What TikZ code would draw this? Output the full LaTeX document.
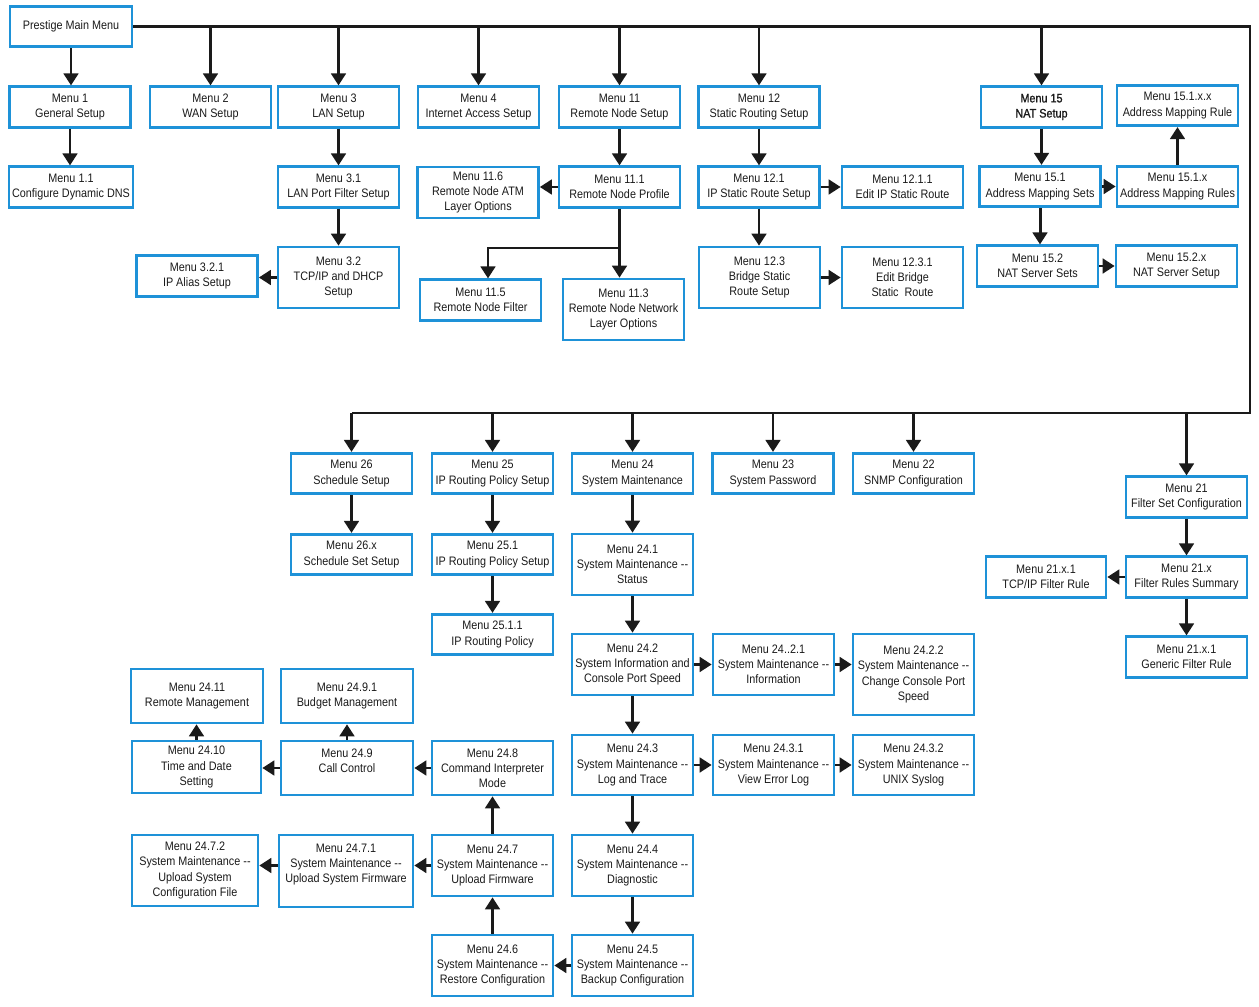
\documentclass[tikz,border=0pt]{standalone}
\usepackage{fontspec}
\setmainfont{Liberation Sans}[FakeStretch=0.88]
\newfontfamily\heavyfont{Liberation Sans}[FakeStretch=0.88,FakeBold=1.2]
\usepackage{tikz}
\usetikzlibrary{arrows.meta}
\definecolor{boxblue}{RGB}{30,146,216}
\definecolor{ink}{RGB}{26,26,26}
\newcommand{\sysm}{System Maintenance -{}-}

\begin{document}
\begin{tikzpicture}[x=0.02cm,y=-0.02cm,
  menu/.style={draw=boxblue,line width=1.5pt,align=center,inner sep=0pt,
    minimum width=2.42cm,minimum height=0.81cm,text=ink,
    font=\fontsize{7pt}{8.6pt}\selectfont},
  tall/.style={minimum height=1.22cm},
  arr/.style={-{Triangle[length=2.4mm,width=2.9mm]},line width=1.7pt,draw=ink},
  bus/.style={line width=1.2pt,draw=ink}]

\useasboundingbox (0,0) rectangle (1259,1007);

% top row
\node[menu,minimum width=2.44cm] (main) at (71,26.5) {Prestige Main Menu};
\node[menu] (m1) at (70,107) {Menu 1\\General Setup};
\node[menu] (m2) at (210.5,107) {Menu 2\\WAN Setup};
\node[menu] (m3) at (338.5,107) {Menu 3\\LAN Setup};
\node[menu] (m4) at (478.5,107) {Menu 4\\Internet Access Setup};
\node[menu] (m11) at (619.5,107) {Menu 11\\Remote Node Setup};
\node[menu] (m12) at (759,107) {Menu 12\\Static Routing Setup};
\node[menu,font=\fontsize{7pt}{8.6pt}\heavyfont] (m15) at (1041.5,107) {Menu 15\\NAT Setup};
\node[menu] (m15_1_x_x) at (1177.5,105.5) {Menu 15.1.x.x\\Address Mapping Rule};

% second row
\node[menu,minimum width=2.48cm] (m1_1) at (71,187) {Menu 1.1\\Configure Dynamic DNS};
\node[menu] (m3_1) at (338.5,187) {Menu 3.1\\LAN Port Filter Setup};
\node[menu,minimum height=1.02cm] (m11_6) at (478,192.5) {Menu 11.6\\Remote Node ATM\\Layer Options};
\node[menu] (m11_1) at (619.5,187) {Menu 11.1\\Remote Node Profile};
\node[menu] (m12_1) at (759,187) {Menu 12.1\\IP Static Route Setup};
\node[menu] (m12_1_1) at (902.5,187) {Menu 12.1.1\\Edit IP Static Route};
\node[menu] (m15_1) at (1040,186.5) {Menu 15.1\\Address Mapping Sets};
\node[menu] (m15_1_x) at (1177.5,186.5) {Menu 15.1.x\\Address Mapping Rules};

% third row
\node[menu,tall] (m3_2) at (338.5,277.5) {Menu 3.2\\TCP/IP and DHCP\\Setup};
\node[menu] (m3_2_1) at (197,276) {Menu 3.2.1\\IP Alias Setup};
\node[menu] (m11_5) at (480.5,300) {Menu 11.5\\Remote Node Filter};
\node[menu,tall] (m11_3) at (623.5,309.5) {Menu 11.3\\Remote Node Network\\Layer Options};
\node[menu,tall] (m12_3) at (759.5,277.5) {Menu 12.3\\Bridge Static\\Route Setup};
\node[menu,tall] (m12_3_1) at (902.5,277.5) {Menu 12.3.1\\Edit Bridge\\Static\ \ Route};
\node[menu] (m15_2) at (1037.5,266) {Menu 15.2\\NAT Server Sets};
\node[menu] (m15_2_x) at (1176.5,266) {Menu 15.2.x\\NAT Server Setup};

% lower part
\node[menu] (m26) at (351.5,473.5) {Menu 26\\Schedule Setup};
\node[menu] (m25) at (492.5,473.5) {Menu 25\\IP Routing Policy Setup};
\node[menu] (m24) at (632.5,473.5) {Menu 24\\System Maintenance};
\node[menu] (m23) at (773,473.5) {Menu 23\\System Password};
\node[menu] (m22) at (913.5,473.5) {Menu 22\\SNMP Configuration};
\node[menu] (m21) at (1186.5,497) {Menu 21\\Filter Set Configuration};

\node[menu] (m26_x) at (351.5,554.5) {Menu 26.x\\Schedule Set Setup};
\node[menu] (m25_1) at (492.5,554.5) {Menu 25.1\\IP Routing Policy Setup};
\node[menu,tall] (m24_1) at (632.5,564.5) {Menu 24.1\\\sysm\\Status};
\node[menu] (m25_1_1) at (492.5,634.5) {Menu 25.1.1\\IP Routing Policy};

\node[menu] (m21_x) at (1186.5,577) {Menu 21.x\\Filter Rules Summary};
\node[menu,minimum width=2.4cm] (m21_x_1a) at (1046,577) {Menu 21.x.1\\TCP/IP Filter Rule};
\node[menu] (m21_x_1b) at (1186.5,657) {Menu 21.x.1\\Generic Filter Rule};

\node[menu,tall] (m24_2) at (632.5,664.5) {Menu 24.2\\System Information and\\Console Port Speed};
\node[menu,tall] (m24_2_1) at (773.5,664.5) {Menu 24..2.1\\\sysm\\Information};
\node[menu,minimum height=1.62cm] (m24_2_2) at (913.5,674.5) {Menu 24.2.2\\\sysm\\Change Console Port\\Speed};

\node[menu,minimum width=2.64cm,minimum height=1.08cm] (m24_11) at (197,696) {Menu 24.11\\Remote Management};
\node[menu,minimum width=2.64cm,minimum height=1.08cm] (m24_9_1) at (347,696) {Menu 24.9.1\\Budget Management};
\node[menu,minimum width=2.58cm,minimum height=1.04cm] (m24_10) at (196.5,767) {Menu 24.10\\Time and Date\\Setting};
\node[menu,minimum width=2.64cm,minimum height=1.08cm] (m24_9) at (347,768) {Menu 24.9\\Call Control\\~};
\node[menu,minimum height=1.08cm] (m24_8) at (492.5,768) {Menu 24.8\\Command Interpreter\\Mode};

\node[menu,minimum height=1.2cm] (m24_3) at (632.5,765) {Menu 24.3\\\sysm\\Log and Trace};
\node[menu,minimum height=1.2cm] (m24_3_1) at (773.5,765) {Menu 24.3.1\\\sysm\\View Error Log};
\node[menu,minimum height=1.2cm] (m24_3_2) at (913.5,765) {Menu 24.3.2\\\sysm\\UNIX Syslog};

\node[menu,minimum width=2.52cm,minimum height=1.42cm] (m24_7_2) at (195,870.5) {Menu 24.7.2\\\sysm\\Upload System\\Configuration File};
\node[menu,minimum width=2.68cm,minimum height=1.44cm] (m24_7_1) at (346,871) {Menu 24.7.1\\\sysm\\Upload System Firmware\\~};
\node[menu,tall] (m24_7) at (492.5,865.5) {Menu 24.7\\\sysm\\Upload Firmware};
\node[menu,tall] (m24_4) at (632.5,865.5) {Menu 24.4\\\sysm\\Diagnostic};
\node[menu,tall] (m24_6) at (492.5,965.5) {Menu 24.6\\\sysm\\Restore Configuration};
\node[menu,tall] (m24_5) at (632.5,965.5) {Menu 24.5\\\sysm\\Backup Configuration};

% bus lines
\coordinate (busNE) at (1250,26.5);
\coordinate (busSE) at (1250,413);
\draw[bus] (main.east) -- (busNE) -- (busSE) -- (busSE -| m26);

% drops from the top bus
\draw[arr] (main.south) -- (main.south |- m1.north);
\draw[arr] (main.east -| m2) -- (m2);
\draw[arr] (main.east -| m3) -- (m3);
\draw[arr] (main.east -| m4) -- (m4);
\draw[arr] (main.east -| m11) -- (m11);
\draw[arr] (main.east -| m12) -- (m12);
\draw[arr] (main.east -| m15) -- (m15);

% drops from the lower bus
\draw[arr] (busSE -| m26) -- (m26);
\draw[arr] (busSE -| m25) -- (m25);
\draw[arr] (busSE -| m24) -- (m24);
\draw[arr] (busSE -| m23) -- (m23);
\draw[arr] (busSE -| m22) -- (m22);
\draw[arr] (busSE -| m21) -- (m21);

% menus 1 and 3
\draw[arr] (m1.south) -- (m1.south |- m1_1.north);
\draw[arr] (m3) -- (m3_1);
\draw[arr] (m3_1) -- (m3_2);
\draw[arr] (m3_2.west) -- (m3_2.west -| m3_2_1.east);

% menu 11
\coordinate (split) at (619.5,248);
\draw[arr] (m11) -- (m11_1);
\draw[arr] (m11_1.west) -- (m11_1.west -| m11_6.east);
\draw[arr] (m11_1.south) -- (m11_1.south |- m11_3.north);
\draw[arr] (split) -| ([xshift=0.15cm]m11_5.north);

% menu 12
\draw[arr] (m12) -- (m12_1);
\draw[arr] (m12_1.south) -- (m12_1.south |- m12_3.north);
\draw[arr] (m12_1) -- (m12_1_1);
\draw[arr] (m12_3) -- (m12_3_1);

% menu 15
\draw[arr] (m15.south) -- (m15.south |- m15_1.north);
\draw[arr] (m15_1.south) -- (m15_1.south |- m15_2.north);
\draw[arr] (m15_1) -- (m15_1_x);
\draw[arr] (m15_1_x) -- (m15_1_x_x);
\draw[arr] (m15_2) -- (m15_2_x);

% menus 26, 25, 21
\draw[arr] (m26) -- (m26_x);
\draw[arr] (m25) -- (m25_1);
\draw[arr] (m25_1) -- (m25_1_1);
\draw[arr] (m21) -- (m21_x);
\draw[arr] (m21_x) -- (m21_x_1a);
\draw[arr] (m21_x) -- (m21_x_1b);

% menu 24
\draw[arr] (m24) -- (m24_1);
\draw[arr] (m24_1) -- (m24_2);
\draw[arr] (m24_2) -- (m24_3);
\draw[arr] (m24_3) -- (m24_4);
\draw[arr] (m24_4) -- (m24_5);
\draw[arr] (m24_2) -- (m24_2_1);
\draw[arr] (m24_2_1.east) -- (m24_2_1.east -| m24_2_2.west);
\draw[arr] (m24_3) -- (m24_3_1);
\draw[arr] (m24_3_1) -- (m24_3_2);
\draw[arr] (m24_5) -- (m24_6);
\draw[arr] (m24_6) -- (m24_7);
\draw[arr] (m24_7) -- (m24_8);
\draw[arr] (m24_7.west) -- (m24_7.west -| m24_7_1.east);
\draw[arr] (m24_7_1.west |- m24_7.west) -- (m24_7_2.east |- m24_7.west);
\draw[arr] (m24_8) -- (m24_9);
\draw[arr] (m24_9.west) -- (m24_9.west -| m24_10.east);
\draw[arr] (m24_9) -- (m24_9_1);
\draw[arr] (m24_10.north) -- (m24_10.north |- m24_11.south);
\end{tikzpicture}
\end{document}
